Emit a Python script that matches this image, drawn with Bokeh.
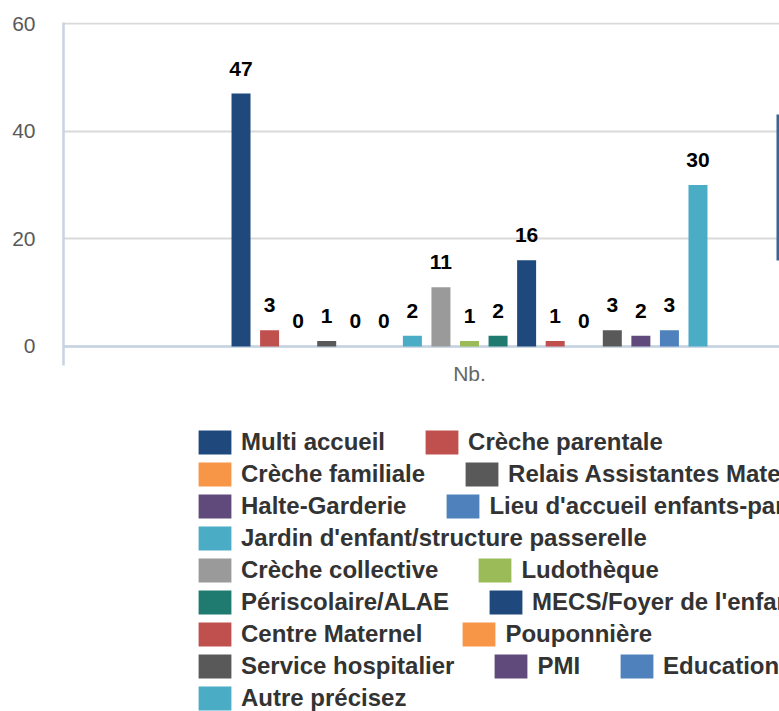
import numpy as np
from bokeh.plotting import figure
from bokeh.layouts import column
from bokeh.models import (ColumnDataSource, Range1d, FixedTicker, CustomJSTickFormatter,
                          Span, Legend, LegendItem, BoxAnnotation)
from bokeh.core.properties import value
from bokeh.embed import file_html
from bokeh.resources import INLINE

# ---------------- data ----------------
categories = ["Nb."]
series = ["Multi accueil", "Crèche parentale", "Crèche familiale",
          "Relais Assistantes Maternelles", "Halte-Garderie",
          "Lieu d'accueil enfants-parents", "Jardin d'enfant/structure passerelle",
          "Crèche collective", "Ludothèque", "Périscolaire/ALAE",
          "MECS/Foyer de l'enfance", "Centre Maternel", "Pouponnière",
          "Service hospitalier", "PMI", "Education nationale", "Autre précisez"]
counts = [47, 3, 0, 1, 0, 0, 2, 11, 1, 2, 16, 1, 0, 3, 2, 3, 30]
colors = ["#1F497D", "#C0504D", "#F79646", "#595959", "#604A7B", "#4F81BD",
          "#4BACC6", "#9A9A9A", "#9BBB59", "#1F7B70", "#1F497D", "#C0504D",
          "#F79646", "#595959", "#604A7B", "#4F81BD", "#4BACC6"]
y_ticks = [0, 20, 40, 60]
legend_rows = [2, 2, 2, 1, 2, 2, 2, 3, 1]

# ---------------- layout ----------------
W, H = 779, 711
CHART_H = 400
FRAME_LEFT, FRAME_TOP, FRAME_H = 63, 22, 343
CAT_PX = 812.0            # pixel width of the single category band
STEP_PX, BAR_PX = 28.56, 19.0
FONT = "Liberation Sans"

frame_w = W - FRAME_LEFT
x_start, x_end = -0.5, -0.5 + frame_w / CAT_PX
y_start, y_end = -3.53, 60.19
p = figure(width=W, height=CHART_H, output_backend="svg", toolbar_location=None,
           x_range=Range1d(x_start, x_end), y_range=Range1d(y_start, y_end),
           min_border_left=FRAME_LEFT, min_border_right=0,
           min_border_top=FRAME_TOP, min_border_bottom=CHART_H - FRAME_TOP - FRAME_H)
p.outline_line_color = None
p.background_fill_color = "white"
p.border_fill_color = "white"

n = len(series)
cat_center = float(categories.index("Nb."))
xs = cat_center + (np.arange(n) - (n - 1) / 2) * (STEP_PX / CAT_PX)
src = ColumnDataSource(dict(x=xs, top=counts, color=colors, name=series,
                            label=[str(v) for v in counts]))

zero = Span(location=0, dimension="width", line_color="#C6D3E2", line_width=2.5,
            level="underlay")
p.add_layout(zero)

bars = p.vbar(x="x", top="top", bottom=0, width=BAR_PX / CAT_PX, source=src,
              fill_color="color", line_color=None)

p.text(x="x", y="top", text="label", source=src, text_align="center",
       text_baseline="alphabetic", y_offset=-25, text_color="black",
       text_font=value(FONT), text_font_style="bold", text_font_size="21px")

# decorative scroll marker hugging the right edge of the plot area
ppu_y = FRAME_H / (y_end - y_start)
p.add_layout(BoxAnnotation(left=x_end - 3 / CAT_PX, right=x_end,
                           top=y_end - (114 - FRAME_TOP) / ppu_y,
                           bottom=y_end - (260 - FRAME_TOP) / ppu_y,
                           fill_color="#3A6591", fill_alpha=1, line_color=None))

# y axis
p.yaxis.ticker = FixedTicker(ticks=y_ticks)
p.yaxis.major_tick_line_color = None
p.yaxis.minor_tick_line_color = None
p.yaxis.major_tick_out = 0
p.yaxis.major_tick_in = 0
p.yaxis.axis_line_color = "#C6D3E2"
p.yaxis.axis_line_width = 2.5
p.yaxis.major_label_standoff = 28
p.yaxis.major_label_text_font = FONT
p.yaxis.major_label_text_font_size = "21px"
p.yaxis.major_label_text_color = "#595959"

# x axis
p.xaxis.ticker = FixedTicker(ticks=[cat_center])
p.xaxis.formatter = CustomJSTickFormatter(args=dict(cats=categories),
                                          code="return cats[Math.round(tick)] || ''")
p.xaxis.axis_line_color = None
p.xaxis.major_tick_line_color = None
p.xaxis.minor_tick_line_color = None
p.xaxis.major_tick_out = 0
p.xaxis.major_tick_in = 0
p.xaxis.major_label_standoff = -4
p.xaxis.major_label_text_font = FONT
p.xaxis.major_label_text_font_size = "21px"
p.xaxis.major_label_text_color = "#666666"

p.ygrid.ticker = FixedTicker(ticks=y_ticks)
p.ygrid.grid_line_color = "#D9D9D9"
p.ygrid.grid_line_width = 2
p.xgrid.visible = False

# ---------------- legend panel ----------------
LEG_H = H - CHART_H
q = figure(width=W, height=LEG_H, output_backend="svg", toolbar_location=None,
           x_range=Range1d(100, 101), y_range=Range1d(100, 101),
           min_border=0, x_axis_type=None, y_axis_type=None)
q.outline_line_color = None
q.grid.visible = False
q.background_fill_color = "white"
q.border_fill_color = "white"
# same bars (outside the visible range) so the legend can draw their swatches
lbars = q.vbar(x="x", top="top", bottom=0, width=BAR_PX / CAT_PX, source=src,
               fill_color="color", line_color=None)

ROW_PX = 32
FIRST_TOP = 25       # top of first legend row inside the legend panel
idx = 0
for k, cnt in enumerate(legend_rows):
    items = [LegendItem(label=series[i], renderers=[lbars], index=i)
             for i in range(idx, idx + cnt)]
    idx += cnt
    leg_bottom = LEG_H - (FIRST_TOP + ROW_PX * k + ROW_PX)
    leg = Legend(items=items, orientation="horizontal",
                 location=(131, leg_bottom),
                 label_text_font=FONT, label_text_font_size="24px",
                 label_text_font_style="bold", label_text_color="#333333",
                 glyph_width=41, glyph_height=30, label_height=30,
                 label_standoff=6, spacing=36, padding=1, margin=0,
                 border_line_color=None, background_fill_alpha=0)
    q.add_layout(leg, "center")

layout = column(p, q, spacing=0)
open("out.html", "w").write(file_html(layout, INLINE))
